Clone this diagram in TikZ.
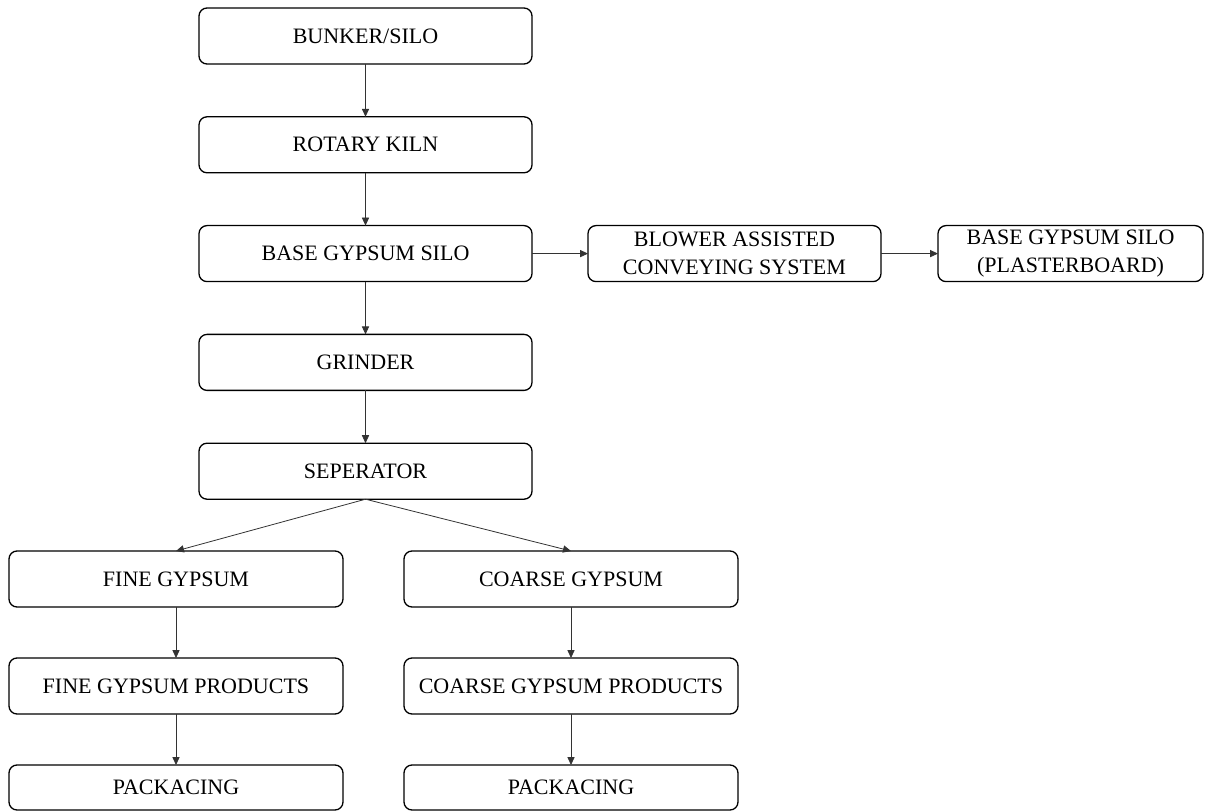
\documentclass[tikz,border=0pt]{standalone}
\usepackage{fontspec}
\setmainfont{Liberation Serif}
\usepackage{tikz}
\usetikzlibrary{arrows.meta,positioning}
\usepackage{xcolor}

\begin{document}
\begin{tikzpicture}[
  font=\fontsize{11}{14}\selectfont,
  node distance=26.4pt,
  box/.style={draw, rounded corners=4pt, align=center, line width=0.65pt,
              inner sep=0pt, outer sep=0pt, minimum height=28pt, minimum width=166.5pt},
  arr/.style={-{Triangle[length=4pt, width=3.6pt]}, line width=0.4pt, black!80}
]
\useasboundingbox (0,0) rectangle (604.5pt,-406pt);
\node[box] (bunker) at (182.75pt,-18pt) {BUNKER/SILO};
\node[box, below=of bunker] (kiln) {ROTARY KILN};
\node[box, below=of kiln] (base) {BASE GYPSUM SILO};
\node[box, below=of base] (grind) {GRINDER};
\node[box, below=of grind] (sep) {SEPERATOR};
\node[box, minimum width=146.5pt, right=28pt of base] (blow) {BLOWER ASSISTED\\CONVEYING SYSTEM};
\node[box, minimum width=132.5pt, right=28.5pt of blow] (plaster) {BASE GYPSUM SILO\\(PLASTERBOARD)};
\node[box, minimum width=167pt] (fine) at (88pt,-289.5pt) {FINE GYPSUM};
\node[box, minimum width=167pt, right=30.5pt of fine] (coarse) {COARSE GYPSUM};
\node[box, minimum width=167pt, below=25.5pt of fine] (fineprod) {FINE GYPSUM PRODUCTS};
\node[box, minimum width=167pt, below=25.5pt of coarse] (coarseprod) {COARSE GYPSUM PRODUCTS};
\node[box, minimum width=167pt, minimum height=22.5pt, below=25.5pt of fineprod] (finepack) {PACKACING};
\node[box, minimum width=167pt, minimum height=22.5pt, below=25.5pt of coarseprod] (coarsepack) {PACKACING};
\draw[arr] (bunker) -- (kiln);
\draw[arr] (kiln) -- (base);
\draw[arr] (base) -- (grind);
\draw[arr] (grind) -- (sep);
\draw[arr] (base) -- (blow);
\draw[arr] (blow) -- (plaster);
\draw[arr] (sep.south) -- (fine.north);
\draw[arr] (sep.south) -- (coarse.north);
\draw[arr] (fine) -- (fineprod);
\draw[arr] (coarse) -- (coarseprod);
\draw[arr] (fineprod) -- (finepack);
\draw[arr] (coarseprod) -- (coarsepack);
\end{tikzpicture}
\end{document}
